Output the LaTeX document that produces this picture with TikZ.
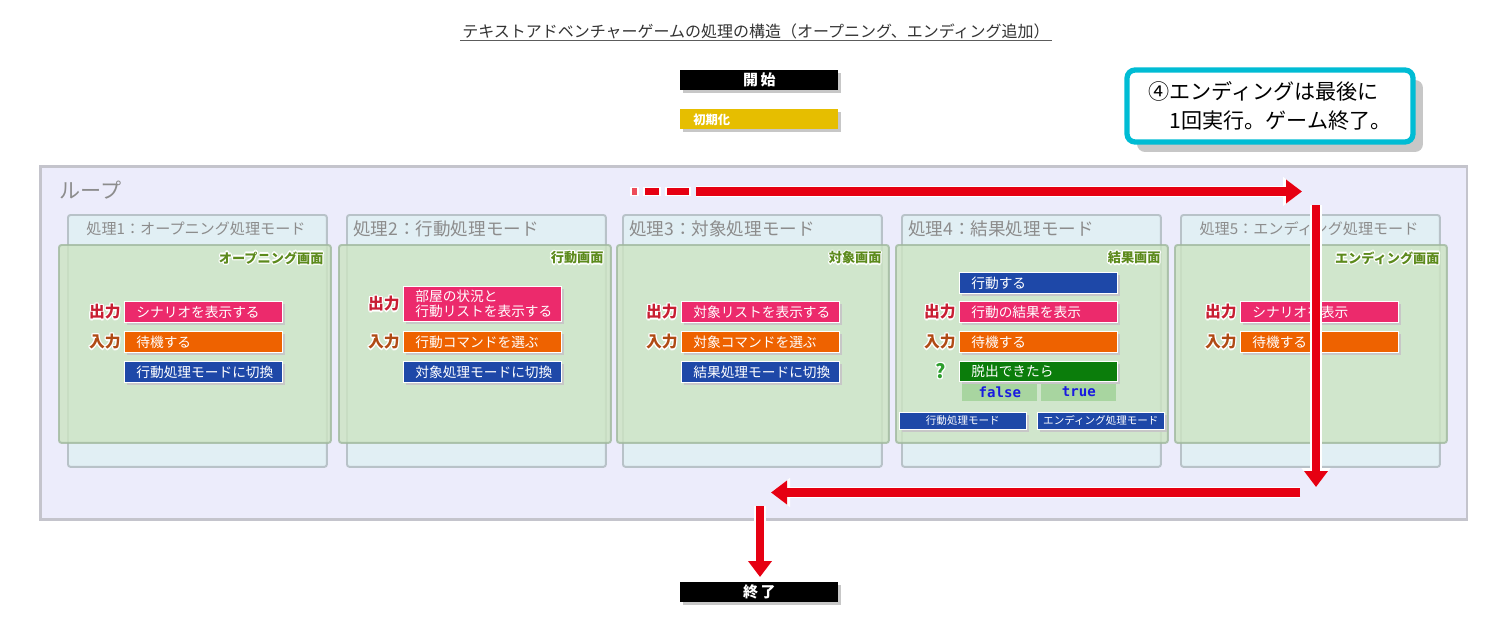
\documentclass[tikz,border=0pt]{standalone}
\usepackage{fontspec}
\setmainfont{Noto Sans CJK JP}
\setmonofont{DejaVu Sans Mono}
\usetikzlibrary{positioning,shadows,arrows.meta}

\definecolor{titlegray}{HTML}{333333}
\definecolor{loopfill}{HTML}{ECECFB}
\definecolor{loopline}{HTML}{C4C4CC}
\definecolor{bluefill}{HTML}{E1EFF4}
\definecolor{blueline}{HTML}{B8C2C8}
\definecolor{greenfill}{HTML}{CCE4C2}
\definecolor{greenline}{HTML}{A0B89E}
\definecolor{scrgreen}{HTML}{5C8A1C}
\definecolor{outred}{HTML}{C81E32}
\definecolor{inred}{HTML}{B04A14}
\definecolor{qgreen}{HTML}{2E9E2E}
\definecolor{pinkc}{HTML}{EC2A6C}
\definecolor{orangec}{HTML}{EE6200}
\definecolor{bluec}{HTML}{1E48A8}
\definecolor{boxgreen}{HTML}{0B7D0B}
\definecolor{flaggreen}{HTML}{A8D5A0}
\definecolor{flagblue}{HTML}{1A1AE0}
\definecolor{yellowc}{HTML}{E6BE00}
\definecolor{arrowred}{HTML}{E60012}
\definecolor{notecyan}{HTML}{00BCD4}
\definecolor{ptgray}{HTML}{8C8C8C}

\newcommand\fsz[2]{\fontsize{#1}{#2}\selectfont}
%%%% text with a white rim
\newcommand\hcopy[3]{\makebox[0pt][l]{\hspace*{#1}\raisebox{#2}{#3}}}
\newcommand\halotext[3]{{\color{#1}%
 \hcopy{0.7pt}{0pt}{#3}\hcopy{-0.7pt}{0pt}{#3}%
 \hcopy{0pt}{0.7pt}{#3}\hcopy{0pt}{-0.7pt}{#3}%
 \hcopy{0.5pt}{0.5pt}{#3}\hcopy{-0.5pt}{0.5pt}{#3}%
 \hcopy{0.5pt}{-0.5pt}{#3}\hcopy{-0.5pt}{-0.5pt}{#3}}{\color{#2}#3}}

\begin{document}
\begin{tikzpicture}[x=0.02cm, y=-0.02cm,
  boxshadow/.style={drop shadow={shadow xshift=0.06cm, shadow yshift=-0.06cm, fill=black!22, opacity=1}},
  box/.style={boxshadow, draw=white, line width=0.4pt, text=white, anchor=north west,
    minimum height=0.42cm, text width=2.68cm, inner xsep=0.24cm, inner ysep=0pt,
    align=left, font=\fsz{7.8pt}{8.4pt}},
  smallbox/.style={box, fill=bluec, text width=2.54cm, inner xsep=0pt, minimum height=0.34cm,
    align=center, font=\fsz{6pt}{7pt}},
  flagbox/.style={fill=flaggreen, text=flagblue, anchor=north west, minimum width=1.5cm,
    minimum height=0.38cm, inner sep=0pt, font=\ttfamily\bfseries\fsz{8pt}{9pt}},
  startbox/.style={boxshadow, fill=black, text=white, anchor=north west, minimum width=3.16cm,
    minimum height=0.4cm, inner sep=0pt, font=\bfseries\fsz{8.5pt}{9pt}},
  initbox/.style={startbox, fill=yellowc, text width=2.64cm, inner xsep=0.26cm, align=left,
    font=\bfseries\fsz{7pt}{8pt}},
  loopbox/.style={draw=loopline, line width=1.5pt, fill=loopfill, anchor=north west,
    minimum width=28.54cm, minimum height=7.06cm, inner sep=0pt},
  bluepanel/.style={draw=blueline, line width=1.1pt, fill=bluefill, rounded corners=1.5pt,
    minimum width=5.18cm, minimum height=5.04cm, anchor=north west, inner sep=0pt},
  greenpanel/.style={draw=greenline, draw opacity=0.8, fill=greenfill, fill opacity=0.8,
    line width=1.1pt, rounded corners=1.5pt, minimum width=5.44cm, minimum height=3.96cm,
    anchor=north west, inner sep=0pt},
  ptitle/.style={text=ptgray, inner sep=0pt, font=\fsz{10pt}{11pt}},
  scrlab/.style={inner sep=0pt, font=\bfseries\fsz{7.5pt}{8pt}},
  outlab/.style={inner sep=0pt, font=\bfseries\fsz{9pt}{10pt}},
  note/.style={draw=notecyan, line width=3pt, fill=white, rounded corners=0.16cm,
    minimum width=5.72cm, minimum height=1.44cm, align=left, font=\fsz{12pt}{16.5pt},
    drop shadow={shadow xshift=0.2cm, shadow yshift=-0.2cm, fill=black!22, opacity=1}},
  redarrow/.style={draw=arrowred, line width=0.17cm, -{Triangle[length=0.32cm,width=0.46cm]},
    preaction={draw=white, line width=0.23cm, -{Triangle[length=0.38cm,width=0.56cm]}}}
]
\useasboundingbox (0,0) rectangle (1500,632);

%%%% title
\node[font=\fsz{9.1pt}{11pt}, text=titlegray, inner sep=1pt] (title) at (756,31)
  {テキストアドベンチャーゲームの処理の構造（オープニング、エンディング追加）};
\draw[titlegray!80, line width=0.5pt] (title.south west) -- (title.south east);

%%%% start
\node[startbox] (start) at (680,70) {開\hspace{1.5pt}始};
\node[initbox] (init) at (680,109) {初期化};

%%%% note
\node[note] (note) at (1270,106) {④エンディングは最後に\\\hspace*{0.42cm}1回実行。ゲーム終了。};

%%%% loop
\node[loopbox] (loop) at (39,165) {};
\node[text=ptgray, inner sep=0pt, font=\fsz{12pt}{13pt}, anchor=west] (looplab) at (59,190) {ループ};

%%%% panels
\foreach \i/\bx/\gx/\scr in {1/67/58/オープニング画面, 2/346/338/行動画面, 3/622/616/対象画面,
    4/901/895/結果画面, 5/1180/1174/エンディング画面} {
  \node[bluepanel] (b\i) at (\bx,214) {};
  \node[greenpanel] (g\i) at (\gx,244) {};
  \node[scrlab, below left=0.12cm and 0.16cm of g\i.north east] (s\i) {\halotext{white}{scrgreen}{\scr}};
}
\node[ptitle, font=\fsz{8.6pt}{9pt}] (t1) at (196,229) {処理1：オープニング処理モード};
\node[ptitle, anchor=west] (t2) at (353,229) {処理2：行動処理モード};
\node[ptitle, anchor=west] (t3) at (629,229) {処理3：対象処理モード};
\node[ptitle, anchor=west] (t4) at (908,229) {処理4：結果処理モード};
\node[ptitle, font=\fsz{8.6pt}{9pt}] (t5) at (1309,229) {処理5：エンディング処理モード};

%%%% panel 1
\node[box, fill=pinkc] (p1o) at (124,301) {シナリオを表示する};
\node[box, fill=orangec] (p1i) at (124,331) {待機する};
\node[box, fill=bluec] (p1m) at (124,361) {行動処理モードに切換};
\node[outlab, left=0.06cm of p1o] (p1ol) {\halotext{white}{outred}{出力}};
\node[outlab, left=0.06cm of p1i] (p1il) {\halotext{white}{inred}{入力}};

%%%% panel 2
\node[box, fill=pinkc, minimum height=0.7cm] (p2o) at (403,286) {部屋の状況と\\行動リストを表示する};
\node[box, fill=orangec] (p2i) at (403,331) {行動コマンドを選ぶ};
\node[box, fill=bluec] (p2m) at (403,361) {対象処理モードに切換};
\node[outlab, left=0.06cm of p2o] (p2ol) {\halotext{white}{outred}{出力}};
\node[outlab, left=0.06cm of p2i] (p2il) {\halotext{white}{inred}{入力}};

%%%% panel 3
\node[box, fill=pinkc] (p3o) at (681,301) {対象リストを表示する};
\node[box, fill=orangec] (p3i) at (681,331) {対象コマンドを選ぶ};
\node[box, fill=bluec] (p3m) at (681,361) {結果処理モードに切換};
\node[outlab, left=0.06cm of p3o] (p3ol) {\halotext{white}{outred}{出力}};
\node[outlab, left=0.06cm of p3i] (p3il) {\halotext{white}{inred}{入力}};

%%%% panel 4
\node[box, fill=bluec] (p4a) at (959,272) {行動する};
\node[box, fill=pinkc] (p4o) at (959,301) {行動の結果を表示};
\node[box, fill=orangec] (p4i) at (959,331) {待機する};
\node[flagbox] (p4f) at (962,382) {false};
\node[flagbox] (p4t) at (1041,382) {true};
\node[box, fill=boxgreen, minimum height=0.4cm] (p4q) at (959,361) {脱出できたら};
\node[outlab, left=0.06cm of p4o] (p4ol) {\halotext{white}{outred}{出力}};
\node[outlab, left=0.06cm of p4i] (p4il) {\halotext{white}{inred}{入力}};
\node[outlab, font=\bfseries\fsz{11pt}{12pt}, left=0.26cm of p4q] (p4ql) {\halotext{white}{qgreen}{?}};
\node[smallbox] (p4m1) at (899,412) {行動処理モード};
\node[smallbox] (p4m2) at (1037,412) {エンディング処理モード};

%%%% panel 5
\node[box, fill=pinkc] (p5o) at (1240,301) {シナリオを表示};
\node[box, fill=orangec] (p5i) at (1240,331) {待機する};
\node[outlab, left=0.06cm of p5o] (p5ol) {\halotext{white}{outred}{出力}};
\node[outlab, left=0.06cm of p5i] (p5il) {\halotext{white}{inred}{入力}};

%%%% end
\node[startbox] (endb) at (680,582) {終\hspace{1.5pt}了};

%%%% arrows
\fill[arrowred!70!white, draw=white, line width=0.6pt] (631,187.5) rectangle (638,195.5);
\fill[arrowred, draw=white, line width=0.6pt] (644,187.5) rectangle (660,195.5);
\fill[arrowred, draw=white, line width=0.6pt] (666,187.5) rectangle (690,195.5);
\coordinate (r0) at (696,191.5);
\coordinate (r1) at (1302,191.5);
\coordinate (r2) at (1316,205);
\coordinate (r3) at (1316,487);
\coordinate (r4) at (1300,492.5);
\coordinate (r5) at (771,492.5);
\coordinate (r6) at (760,506);
\draw[redarrow] (r0) -- (r1);
\draw[redarrow] (r2) -- (r3);
\draw[redarrow] (r4) -- (r5);
\draw[redarrow, shorten >=0.1cm] (r6) -- (endb.north -| r6);

\end{tikzpicture}
\end{document}
